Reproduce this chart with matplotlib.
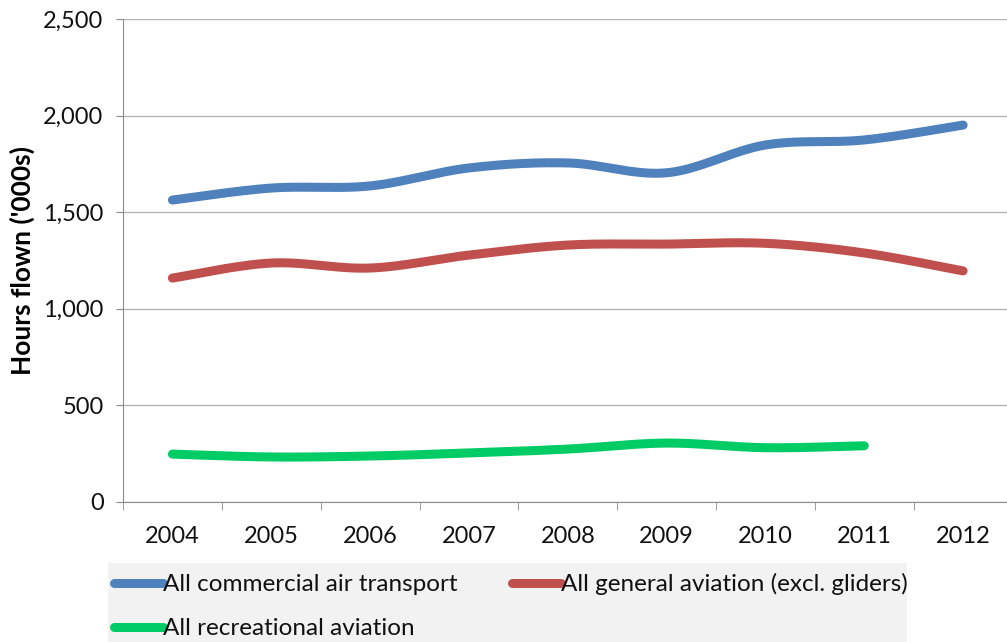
import numpy as np
import matplotlib
matplotlib.use("Agg")
import matplotlib.pyplot as plt
from matplotlib.patches import Rectangle
from matplotlib.ticker import StrMethodFormatter

plt.rcParams['font.family'] = ['Lato', 'DejaVu Sans']

years = ['2004', '2005', '2006', '2007', '2008', '2009', '2010', '2011', '2012']
commercial = [1563, 1625, 1636, 1729, 1755, 1704, 1848, 1874, 1951]
general = [1159, 1237, 1211, 1278, 1330, 1335, 1339, 1289, 1196]
recreational = [248, 233, 238, 254, 274, 305, 281, 291]  # no 2012 figure

labels = ['All commercial air transport',
          'All general aviation (excl. gliders)',
          'All recreational aviation']
colors = ['#4f81bd', '#c0504d', '#00cc66']


def smooth(xs, ys, steps=40):
    # Bezier through every point, like a spreadsheet "smoothed line"
    p = np.column_stack([xs, ys]).astype(float)
    ext = np.vstack([p[0], p, p[-1]])
    out = []
    t = np.linspace(0, 1, steps)[:, None]
    for i in range(len(p) - 1):
        p0, p3 = ext[i + 1], ext[i + 2]
        c1 = p0 + (ext[i + 2] - ext[i]) / 6
        c2 = p3 - (ext[i + 3] - ext[i + 1]) / 6
        seg = ((1 - t) ** 3) * p0 + 3 * ((1 - t) ** 2) * t * c1 + 3 * (1 - t) * t ** 2 * c2 + t ** 3 * p3
        out.append(seg if i == 0 else seg[1:])
    out = np.vstack(out)
    return out[:, 0], out[:, 1]


fig = plt.figure(figsize=(10.07, 6.42), dpi=100)
ax = fig.add_axes([123 / 1007, 140 / 642, 884 / 1007, 483 / 642])

handles = []
for series, lab, col in zip([commercial, general, recreational], labels, colors):
    sx, sy = smooth(np.arange(len(series)), series)
    h, = ax.plot(sx, sy, color=col, lw=6.5, solid_capstyle='round', label=lab, zorder=3)
    handles.append(h)

ax.set_xlim(-0.5, 8.444)
ax.set_ylim(0, 2500)
ax.set_yticks(np.arange(0, 2501, 500))
ax.yaxis.set_major_formatter(StrMethodFormatter('{x:,.0f}'))
ax.set_xticks(range(len(years)))
ax.set_xticklabels(years)
ax.set_xticks(np.arange(-0.5, 8.0, 1), minor=True)

ax.grid(axis='y', color='#b4b4b4', lw=1.0)
ax.set_axisbelow(True)
for s in ['top', 'right']:
    ax.spines[s].set_visible(False)
ax.spines['left'].set_color('#8c8c8c')
ax.spines['bottom'].set_color('#8c8c8c')

ax.tick_params(axis='y', length=5, color='#8c8c8c', pad=9, labelsize=17, labelcolor='#111111')
ax.tick_params(axis='x', which='major', length=0, pad=17, labelsize=17, labelcolor='#111111')
ax.tick_params(axis='x', which='minor', length=6, color='#8c8c8c')

ax.set_ylabel("Hours flown ('000s)", fontsize=19, fontweight='bold')
ax.yaxis.set_label_coords(-0.100, 0.5)

# grey band behind the legend
fig.patches.append(Rectangle((108 / 1007, 0), (907 - 108) / 1007, 79 / 642,
                             transform=fig.transFigure, facecolor='#f2f2f2',
                             edgecolor='none', zorder=0))

# row-wise order: commercial | general, then recreational
order = [handles[0], handles[2], handles[1]]
leg = fig.legend(handles=order, ncol=2, loc='upper left',
                 bbox_to_anchor=(114 / 1007, 1 - 573 / 642), frameon=False,
                 fontsize=17.5, handlelength=2.0, handletextpad=0.02,
                 columnspacing=2.25, borderpad=0, labelspacing=0.95,
                 borderaxespad=0)
for t in leg.get_texts():
    t.set_color('#111111')
for ln in leg.get_lines():
    ln.set_linewidth(6.5)
    ln.set_solid_capstyle('round')

fig.savefig('out.png', dpi=100)
